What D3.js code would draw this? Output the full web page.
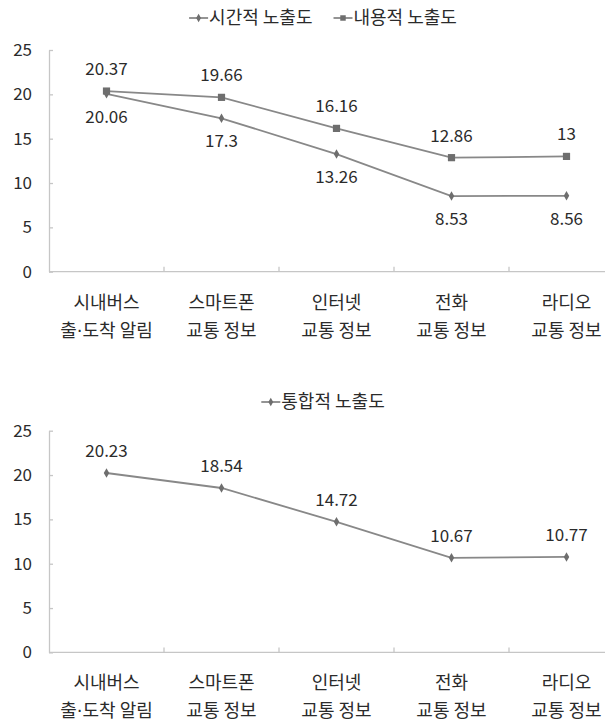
<!DOCTYPE html>
<html>
<head>
<meta charset="utf-8">
<script src="https://cdn.jsdelivr.net/npm/d3@7"></script>
<style>
  body { margin: 0; background: #fff; }
  svg { display: block; font-family: "Noto Sans CJK KR", "Noto Sans", sans-serif; }
</style>
</head>
<body>
<svg id="chart" width="605" height="723"></svg>
<script>
// data
const categories = ["시내버스\n출·도착 알림", "스마트폰\n교통 정보", "인터넷\n교통 정보", "전화\n교통 정보", "라디오\n교통 정보"];
const timeExposure = [20.06, 17.3, 13.26, 8.53, 8.56];
const contentExposure = [20.37, 19.66, 16.16, 12.86, 13];
const integratedExposure = [20.23, 18.54, 14.72, 10.67, 10.77];
const yTicks = [0, 5, 10, 15, 20, 25];

const lineColor = '#888';
const markColor = '#6e6e6e';
const axisColor = '#c6c6c6';
const textColor = '#2b2b2b';
const fontSize = 17;

const svg = d3.select('#chart');

function drawChart(top, series, legendY) {
  const g = svg.append('g').attr('transform', `translate(0,${top})`);

  const x = d3.scaleBand().domain(categories).range([49, 624]).padding(0);
  const y = d3.scaleLinear().domain([0, 25]).range([221.7, 0]);
  const cx = c => x(c) + x.bandwidth() / 2;

  // y axis
  const yAxis = g.append('g')
    .attr('transform', 'translate(49,0)')
    .call(d3.axisLeft(y).tickValues(yTicks).tickSizeInner(-4).tickSizeOuter(0).tickPadding(17));
  yAxis.select('.domain').attr('stroke', axisColor).attr('stroke-width', 1.3);
  yAxis.selectAll('.tick line').attr('stroke', axisColor).attr('stroke-width', 1.3);
  yAxis.selectAll('.tick text')
    .attr('fill', textColor).attr('font-size', fontSize)
    .attr('font-family', '"Noto Sans CJK KR", sans-serif');

  // x axis (ticks between categories)
  const xAxis = g.append('g').attr('transform', `translate(0,${y(0)})`);
  xAxis.append('line')
    .attr('x1', x.range()[0]).attr('x2', x.range()[1])
    .attr('stroke', axisColor).attr('stroke-width', 1.3);
  xAxis.selectAll('line.tk')
    .data(categories.slice(1).concat([null]))
    .join('line')
      .attr('class', 'tk')
      .attr('x1', d => d === null ? x.range()[1] : x(d))
      .attr('x2', d => d === null ? x.range()[1] : x(d))
      .attr('y1', 0).attr('y2', -5)
      .attr('stroke', axisColor).attr('stroke-width', 1.3);
  const lbl = xAxis.selectAll('text.cat')
    .data(categories)
    .join('text')
      .attr('class', 'cat')
      .attr('x', d => cx(d))
      .attr('text-anchor', 'middle')
      .attr('fill', textColor)
      .attr('font-size', 18);
  const rows = lbl.selectAll('tspan.row')
    .data(d => d.split('\n'))
    .join('tspan')
      .attr('class', 'row')
      .attr('x', function() { return d3.select(this.parentNode).attr('x'); })
      .attr('y', (d, i) => 37 + i * 28);
  // keep the middle dot narrow (CJK font draws it full width)
  rows.selectAll('tspan.part')
    .data(d => d.split(/(·)/).filter(p => p.length))
    .join('tspan')
      .attr('class', 'part')
      .attr('font-family', d => d === '·' ? 'DejaVu Sans, sans-serif' : null)
      .text(d => d);

  const line = d3.line()
    .x((d, i) => cx(categories[i]))
    .y(d => y(d));

  series.forEach(s => {
    g.append('path')
      .datum(s.values)
      .attr('fill', 'none')
      .attr('stroke', lineColor)
      .attr('stroke-width', 1.8)
      .attr('d', line);

    const sym = d3.symbol().type(s.shape === 'square' ? d3.symbolSquare : d3.symbolDiamond)
      .size(s.shape === 'square' ? 52 : 26);
    g.selectAll(null)
      .data(s.values)
      .join('path')
        .attr('transform', (d, i) => `translate(${cx(categories[i])},${y(d)})`)
        .attr('d', sym)
        .attr('fill', markColor);

    g.selectAll(null)
      .data(s.values)
      .join('text')
        .attr('x', (d, i) => cx(categories[i]))
        .attr('y', d => y(d) + (s.labelPos === 'below' ? 29 : -16))
        .attr('text-anchor', 'middle')
        .attr('fill', textColor)
        .attr('font-size', fontSize)
        .text(d => d);
  });

  // legend
  const legend = svg.append('g');
  let lx = 0;
  series.forEach(s => {
    const it = legend.append('g');
    it.append('line').attr('x1', 0).attr('x2', 19).attr('stroke', lineColor).attr('stroke-width', 1.8);
    it.append('path')
      .attr('transform', 'translate(9.5,0)')
      .attr('d', d3.symbol().type(s.shape === 'square' ? d3.symbolSquare : d3.symbolDiamond)
        .size(s.shape === 'square' ? 30 : 20))
      .attr('fill', markColor);
    const t = it.append('text').attr('x', 20).attr('dy', '0.35em')
      .attr('fill', textColor).attr('font-size', 18).text(s.name);
    const w = 20 + t.node().getComputedTextLength();
    it.attr('transform', `translate(${lx},${legendY})`);
    lx += w + 21;
  });
  const total = lx - 21;
  legend.attr('transform', `translate(${323 - total / 2},0)`);
}

drawChart(50, [
  { name: '시간적 노출도', values: timeExposure, shape: 'diamond', labelPos: 'below' },
  { name: '내용적 노출도', values: contentExposure, shape: 'square', labelPos: 'above' }
], 18);

drawChart(430.7, [
  { name: '통합적 노출도', values: integratedExposure, shape: 'diamond', labelPos: 'above' }
], 402);
</script>
</body>
</html>
